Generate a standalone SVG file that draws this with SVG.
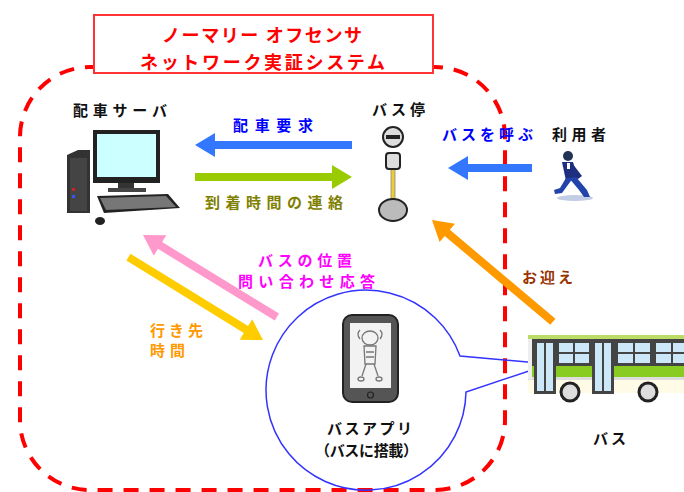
<svg xmlns="http://www.w3.org/2000/svg" width="684" height="492" viewBox="0 0 684 492">
  <style>
    .t { font-family: "Noto Sans CJK JP", "Noto Sans", sans-serif; font-weight: 700; }
    .title { fill: #ff0000; font-size: 18px; }
    .lbl { fill: #111111; font-size: 15px; }
    .blue { fill: #0000ff; font-size: 15px; }
    .olive { fill: #808000; font-size: 15px; }
    .mag { fill: #ff00ff; font-size: 15px; }
    .org { fill: #ff9900; font-size: 15px; }
    .brown { fill: #993300; font-size: 15px; }
    .zone { fill: none; stroke: #ff0000; stroke-width: 4; stroke-dasharray: 15 11; }
    .bubble { fill: none; stroke: #3333ff; stroke-width: 1.5; }
  </style>

  <rect width="684" height="492" fill="#ffffff"/>

  <!-- system boundary -->
  <rect class="zone" x="20" y="67" width="485" height="423" rx="70" ry="70"/>

  <!-- title box -->
  <g id="title">
    <rect x="94" y="15" width="339" height="58" fill="#ffffff" stroke="#ff3333" stroke-width="2"/>
    <text class="t title" x="162" y="42" textLength="200" lengthAdjust="spacing">ノーマリー オフセンサ</text>
    <text class="t title" x="140" y="69" textLength="245" lengthAdjust="spacing">ネットワーク実証システム</text>
  </g>

  <!-- connectors -->
  <g id="connectors">
    <!-- dispatch request -->
    <g transform="translate(195,145) rotate(180)">
      <polygon points="-157,-4 -20,-4 -20,-12 0,0 -20,12 -20,4 -157,4" fill="#3377ff"/>
    </g>
    <!-- arrival time notice -->
    <g transform="translate(352,177)">
      <polygon points="-157,-4 -20,-4 -20,-12 0,0 -20,12 -20,4 -157,4" fill="#99cc00"/>
    </g>
    <!-- call the bus -->
    <g transform="translate(448,168) rotate(180)">
      <polygon points="-84,-4 -20,-4 -20,-12 0,0 -20,12 -20,4 -84,4" fill="#3377ff"/>
    </g>
    <!-- pick-up -->
    <g transform="translate(432,220) rotate(220.1)">
      <polygon points="-158,-4 -20,-4 -20,-12 0,0 -20,12 -20,4 -158,4" fill="#ff9900"/>
    </g>
    <!-- position query / response -->
    <g transform="translate(143,235) rotate(211.5)">
      <polygon points="-157,-4 -20,-4 -20,-12 0,0 -20,12 -20,4 -157,4" fill="#ff99cc"/>
    </g>
    <!-- destination / time -->
    <g transform="translate(263,340) rotate(31.6)">
      <polygon points="-158,-4 -20,-4 -20,-12 0,0 -20,12 -20,4 -158,4" fill="#ffcc00"/>
    </g>
  </g>

  <!-- connector labels -->
  <g id="labels">
    <text class="t blue" x="233" y="131" textLength="80" lengthAdjust="spacing">配車要求</text>
    <text class="t olive" x="205" y="208" textLength="138" lengthAdjust="spacing">到着時間の連絡</text>
    <text class="t blue" x="442" y="140" textLength="91" lengthAdjust="spacing">バスを呼ぶ</text>
    <text class="t brown" x="522" y="283" textLength="51" lengthAdjust="spacing">お迎え</text>
    <text class="t mag" x="258" y="266" textLength="94" lengthAdjust="spacing">バスの位置</text>
    <text class="t mag" x="238" y="287" textLength="137" lengthAdjust="spacing">問い合わせ応答</text>
    <text class="t org" x="150" y="336" textLength="53" lengthAdjust="spacing">行き先</text>
    <text class="t org" x="150" y="356" textLength="35" lengthAdjust="spacing">時間</text>
  </g>

  <!-- dispatch server -->
  <g id="server">
    <text class="t lbl" x="73" y="116" textLength="94" lengthAdjust="spacing">配車サーバ</text>
    <!-- tower -->
    <polygon points="67,155 78,150 90,150 90,213 67,213" fill="#333333"/>
    <rect x="70" y="158" width="17" height="53" fill="#444444"/>
    <rect x="72" y="195" width="3" height="3" fill="#3355ff"/>
    <rect x="72" y="188" width="3" height="3" fill="#cc2222"/>
    <!-- monitor -->
    <rect x="93" y="130" width="67" height="53" fill="#222222"/>
    <rect x="97" y="134" width="59" height="43" fill="#ccffff"/>
    <rect x="118" y="183" width="16" height="6" fill="#333333"/>
    <rect x="108" y="188" width="38" height="4" fill="#444444"/>
    <!-- keyboard -->
    <polygon points="97,196 168,194 180,208 104,213" fill="#222222"/>
    <polygon points="100,198 166,196 176,207 106,210" fill="#777777"/>
    <ellipse cx="100" cy="221" rx="5" ry="4" fill="#222222"/>
  </g>

  <!-- bus stop -->
  <g id="busstop">
    <text class="t lbl" x="372" y="115" textLength="53" lengthAdjust="spacing">バス停</text>
    <rect x="391" y="164" width="4" height="44" fill="#eecc33" stroke="#888888" stroke-width="0.8"/>
    <ellipse cx="393" cy="210" rx="14" ry="11" fill="#bbbbbb" stroke="#222222" stroke-width="2"/>
    <rect x="386" y="153" width="14" height="16" rx="3" fill="#dddddd" stroke="#222222" stroke-width="2"/>
    <circle cx="393" cy="137" r="10" fill="#dddddd" stroke="#222222" stroke-width="2"/>
    <rect x="386" y="135" width="14" height="4" fill="#222222"/>
  </g>

  <!-- user -->
  <g id="user">
    <text class="t lbl" x="552" y="140" textLength="54" lengthAdjust="spacing">利用者</text>
    <ellipse cx="575" cy="198" rx="18" ry="3" fill="#8899cc" opacity="0.5"/>
    <circle cx="568" cy="156" r="5" fill="#223355"/>
    <polygon points="562,162 573,162 578,179 566,181" fill="#1f2f80"/>
    <polygon points="566,162 572,163 582,176 578,179" fill="#1f2f80"/>
    <polygon points="566,178 573,178 562,193 555,194 554,190 560,188" fill="#2244aa"/>
    <polygon points="569,178 576,177 587,190 590,197 584,197 579,190" fill="#2244aa"/>
    <rect x="567" y="163" width="3" height="6" fill="#ffffff"/>
  </g>

  <!-- bus app bubble -->
  <g id="busapp">
    <path class="bubble" d="M 460,356 A 100,100 0 1 0 466,392 L 550,364 Z"/>
    <rect x="343" y="315" width="55" height="87" rx="9" fill="#555555" stroke="#222222" stroke-width="2"/>
    <rect x="350" y="323" width="41" height="65" fill="#f2f2f2"/>
    <circle cx="370.5" cy="395" r="3" fill="none" stroke="#222222" stroke-width="1.2"/>
    <!-- character on screen -->
    <g fill="none" stroke="#777777" stroke-width="1.3">
      <ellipse cx="370" cy="338" rx="8" ry="7"/>
      <path d="M 360,330 q -4,4 0,9 M 380,330 q 4,4 0,9"/>
      <path d="M 364,346 l 12,0 l -1,18 l -10,0 z"/>
      <path d="M 366,364 l -4,12 M 374,364 l 4,12"/>
      <ellipse cx="361" cy="379" rx="3" ry="2"/>
      <ellipse cx="379" cy="379" rx="3" ry="2"/>
      <path d="M 366,352 h 8 M 366,357 h 8"/>
    </g>
    <text class="t lbl" x="327" y="434" textLength="85" lengthAdjust="spacing">バスアプリ</text>
    <text class="t lbl" x="315" y="456" textLength="103" lengthAdjust="spacing">（バスに搭載）</text>
  </g>

  <!-- bus -->
  <g id="bus">
    <rect x="528" y="335" width="160" height="58" fill="#fffbe6"/>
    <rect x="528" y="335" width="160" height="4" fill="#bbdd66"/>
    <rect x="528" y="339" width="160" height="28" fill="#444444"/>
    <rect x="528" y="366" width="160" height="11" fill="#88cc22"/>
    <rect x="528" y="377" width="160" height="3" fill="#dddddd"/>
    <!-- windows -->
    <g fill="#cce8f8">
      <rect x="559" y="343" width="14" height="9"/>
      <rect x="575" y="343" width="14" height="9"/>
      <rect x="559" y="354" width="14" height="9"/>
      <rect x="575" y="354" width="14" height="9"/>
      <rect x="618" y="343" width="15" height="9"/>
      <rect x="635" y="343" width="15" height="9"/>
      <rect x="618" y="354" width="15" height="9"/>
      <rect x="635" y="354" width="15" height="9"/>
      <rect x="656" y="343" width="15" height="9"/>
      <rect x="673" y="343" width="15" height="9"/>
      <rect x="656" y="354" width="15" height="9"/>
      <rect x="673" y="354" width="15" height="9"/>
    </g>
    <!-- doors -->
    <rect x="534" y="339" width="22" height="55" fill="#444444"/>
    <rect x="537" y="343" width="7" height="48" fill="#cce8f8"/>
    <rect x="546" y="343" width="7" height="48" fill="#cce8f8"/>
    <rect x="592" y="339" width="22" height="55" fill="#444444"/>
    <rect x="595" y="343" width="7" height="48" fill="#cce8f8"/>
    <rect x="604" y="343" width="7" height="48" fill="#cce8f8"/>
    <rect x="528" y="339" width="4" height="40" fill="#eeeeee"/>
    <!-- wheels -->
    <circle cx="570" cy="392" r="9" fill="#dddddd" stroke="#222222" stroke-width="3"/>
    <circle cx="648" cy="392" r="9" fill="#dddddd" stroke="#222222" stroke-width="3"/>
    <text class="t lbl" x="593" y="444" textLength="33" lengthAdjust="spacing">バス</text>
  </g>
</svg>
